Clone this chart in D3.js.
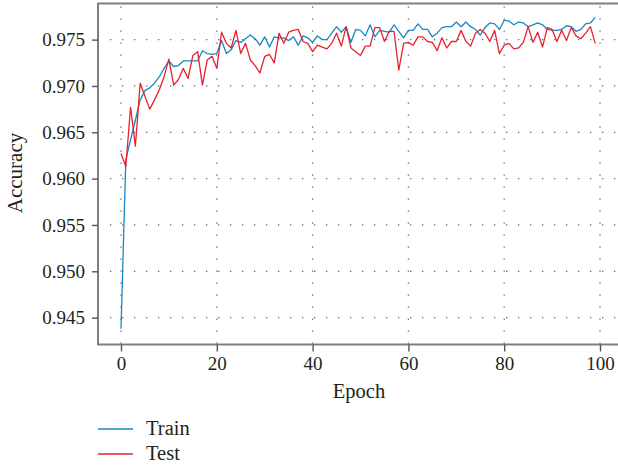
<!DOCTYPE html>
<html>
<head>
<meta charset="utf-8">
<script src="https://cdn.jsdelivr.net/npm/d3@7"></script>
<style>
  html, body { margin: 0; padding: 0; background: #fff; }
  svg { display: block; }
  text { font-family: "Liberation Serif", "DejaVu Serif", serif; fill: #231f20; }
</style>
</head>
<body>
<svg id="chart" width="618" height="466"></svg>
<script>
// Per-epoch accuracy of the model on the training and test sets
const epochs = d3.range(0, 100);
const trainAcc = [
  0.9438, 0.9620, 0.9642, 0.9663, 0.9685, 0.9695, 0.9698, 0.9703, 0.9710, 0.9719,
  0.9727, 0.9721, 0.9722, 0.9727, 0.9727, 0.9727, 0.9727, 0.9738, 0.9735, 0.9734,
  0.9735, 0.9749, 0.9735, 0.9739, 0.9749, 0.9747, 0.9751, 0.9755, 0.9751, 0.9744,
  0.9753, 0.9742, 0.9753, 0.9752, 0.9752, 0.9749, 0.9753, 0.9744, 0.9754, 0.9752,
  0.9747, 0.9754, 0.9750, 0.9750, 0.9757, 0.9764, 0.9758, 0.9764, 0.9747, 0.9761,
  0.9760, 0.9754, 0.9766, 0.9753, 0.9760, 0.9759, 0.9758, 0.9766, 0.9759, 0.9752,
  0.9760, 0.9760, 0.9767, 0.9761, 0.9761, 0.9753, 0.9757, 0.9763, 0.9764, 0.9764,
  0.9769, 0.9764, 0.9769, 0.9764, 0.9761, 0.9755, 0.9763, 0.9768, 0.9767, 0.9761,
  0.9771, 0.9770, 0.9766, 0.9769, 0.9768, 0.9764, 0.9766, 0.9768, 0.9766, 0.9761,
  0.9760, 0.9760, 0.9761, 0.9765, 0.9764, 0.9759, 0.9761, 0.9767, 0.9768, 0.9774
];
const testAcc = [
  0.9627, 0.9613, 0.9677, 0.9635, 0.9703, 0.9689, 0.9675, 0.9685, 0.9696, 0.9710,
  0.9729, 0.9701, 0.9707, 0.9719, 0.9708, 0.9733, 0.9737, 0.9701, 0.9728, 0.9732,
  0.9719, 0.9758, 0.9746, 0.9741, 0.9760, 0.9735, 0.9746, 0.9728, 0.9722, 0.9714,
  0.9732, 0.9734, 0.9725, 0.9757, 0.9746, 0.9758, 0.9760, 0.9761, 0.9748, 0.9746,
  0.9737, 0.9744, 0.9742, 0.9740, 0.9746, 0.9757, 0.9743, 0.9764, 0.9741, 0.9737,
  0.9733, 0.9743, 0.9743, 0.9763, 0.9763, 0.9748, 0.9759, 0.9759, 0.9717, 0.9746,
  0.9747, 0.9744, 0.9753, 0.9753, 0.9748, 0.9747, 0.9738, 0.9752, 0.9741, 0.9748,
  0.9748, 0.9760, 0.9748, 0.9743, 0.9757, 0.9761, 0.9757, 0.9748, 0.9760, 0.9735,
  0.9744, 0.9746, 0.9740, 0.9741, 0.9747, 0.9764, 0.9747, 0.9758, 0.9742, 0.9763,
  0.9761, 0.9748, 0.9760, 0.9749, 0.9763, 0.9754, 0.9751, 0.9757, 0.9764, 0.9746
];
const xTicks = [0, 20, 40, 60, 80, 100];
const yTicks = [0.945, 0.950, 0.955, 0.960, 0.965, 0.970, 0.975];
const seriesNames = ["Train", "Test"];
const seriesColors = ["#1a87c2", "#e8212e"];

const svg = d3.select("#chart");

// Plot frame (open on the right, where it runs past the page edge)
const frame = { left: 98, top: 3.5, right: 622, bottom: 344.5 };

const x = d3.scaleLinear().domain([0, 100]).range([121, 600]);
const y = d3.scaleLinear().domain([0.9421, 0.9789]).range([frame.bottom, frame.top]);

// Dotted grid at every tick
const grid = svg.append("g").attr("stroke", "#666").attr("stroke-width", 1.3)
  .attr("stroke-dasharray", "1.3,10.7");
grid.selectAll("line.v").data(xTicks).join("line")
  .attr("class", "v")
  .attr("x1", d => x(d)).attr("x2", d => x(d))
  .attr("y1", frame.top + 3).attr("y2", frame.bottom);
grid.selectAll("line.h").data(yTicks).join("line")
  .attr("class", "h")
  .attr("x1", frame.left + 12).attr("x2", frame.right)
  .attr("y1", d => y(d)).attr("y2", d => y(d));

// Series lines
const line = d3.line().x((d, i) => x(epochs[i])).y(d => y(d));
[trainAcc, testAcc].forEach((vals, k) => {
  svg.append("path")
    .datum(vals)
    .attr("fill", "none")
    .attr("stroke", seriesColors[k])
    .attr("stroke-width", 1.3)
    .attr("stroke-linejoin", "round")
    .attr("d", line);
});

// Frame
svg.append("path")
  .attr("d", `M${frame.right},${frame.top}H${frame.left}V${frame.bottom}H${frame.right}`)
  .attr("fill", "none").attr("stroke", "#7f7f7f").attr("stroke-width", 2);

// Axes
const xAxis = svg.append("g")
  .attr("transform", `translate(0,${frame.bottom})`)
  .call(d3.axisBottom(x).tickValues(xTicks).tickFormat(d3.format("d")).tickSize(7).tickPadding(5));
const yAxis = svg.append("g")
  .attr("transform", `translate(${frame.left},0)`)
  .call(d3.axisLeft(y).tickValues(yTicks).tickFormat(d3.format(".3f")).tickSize(6).tickPadding(7));
[xAxis, yAxis].forEach(g => {
  g.select(".domain").remove();
  g.selectAll(".tick line").attr("stroke", "#555").attr("stroke-width", 1.4);
  g.selectAll(".tick text")
    .style("font-family", '"Liberation Serif", "DejaVu Serif", serif')
    .style("font-size", "19px").attr("fill", "#231f20");
});

// Axis titles
svg.append("text")
  .attr("x", 359).attr("y", 398)
  .attr("text-anchor", "middle").style("font-size", "20.5px")
  .text("Epoch");
svg.append("text")
  .attr("transform", "translate(22,173) rotate(-90)")
  .attr("text-anchor", "middle").style("font-size", "21px")
  .text("Accuracy");

// Legend
const legend = svg.append("g");
seriesNames.forEach((name, k) => {
  const ly = 429 + k * 25;
  legend.append("line")
    .attr("x1", 98).attr("x2", 133).attr("y1", ly).attr("y2", ly)
    .attr("stroke", seriesColors[k]).attr("stroke-width", 1.3);
  legend.append("text")
    .attr("x", 146).attr("y", ly + 6)
    .style("font-size", "20.5px")
    .text(name);
});
</script>
</body>
</html>
